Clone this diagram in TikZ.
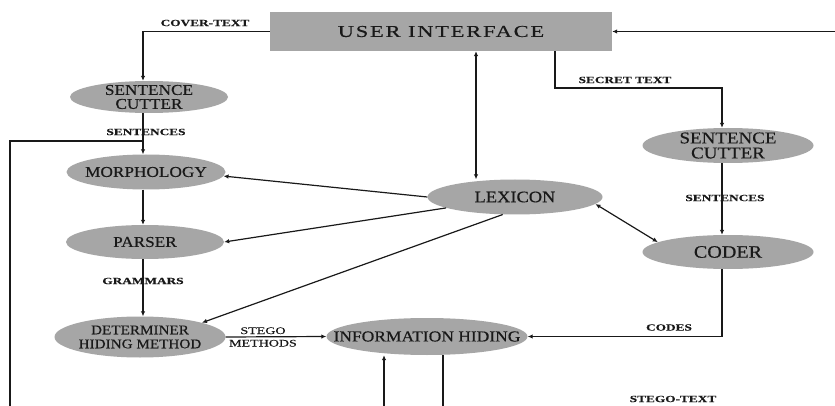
\documentclass[tikz,border=0pt]{standalone}
\usepackage{fontspec}
\setmainfont[FakeStretch=1.15,FakeBold=0.4]{Liberation Serif}
\newfontfamily\lblfont[FakeStretch=1.4,FakeBold=0.3]{Liberation Serif}
\newfontfamily\uifont[FakeStretch=1.35,LetterSpace=11,FakeBold=0.4]{Liberation Serif}
\usetikzlibrary{shapes.geometric,arrows.meta,calc}
\definecolor{shade}{RGB}{166,166,166}
\definecolor{ink}{RGB}{25,25,25}
\tikzset{
  ellnode/.style={ellipse, fill=shade, draw=none, inner sep=0pt},
  etxt/.style={text=ink, inner sep=0pt, align=center},
  boxnode/.style={rectangle, fill=shade, draw=none, inner sep=0pt, text=ink},
  conn/.style={draw=ink, line width=1.2pt},
  arr/.style={conn, -{Latex[length=5pt,width=4.5pt]}},
  darr/.style={conn, {Latex[length=5pt,width=4.5pt]}-{Latex[length=5pt,width=4.5pt]}},
  lbl/.style={font=\lblfont\bfseries\fontsize{9.5}{11}\selectfont, text=ink, inner sep=0pt, align=center},
  lblr/.style={font=\lblfont\fontsize{10}{12.5}\selectfont, text=ink, inner sep=0pt, align=center},
}
\begin{document}
\begin{tikzpicture}[x=1pt,y=-1pt]
\useasboundingbox (0,0) rectangle (835,406);
\fill[white] (0,0) rectangle (835,406);

% nodes
\node[boxnode, minimum width=342pt, minimum height=39pt, font=\uifont\fontsize{16.6}{18}\selectfont] (ui) at (441,31.5) {USER INTERFACE\hspace{14pt}};
\node[ellnode, minimum width=158pt, minimum height=32pt, label={[etxt, font=\fontsize{15}{14}\selectfont]center:{SENTENCE\\CUTTER}}] (sc1) at (149,97) {};
\node[ellnode, minimum width=159pt, minimum height=35pt, label={[etxt, font=\fontsize{15}{16}\selectfont]center:MORPHOLOGY}] (morph) at (146,172) {};
\node[ellnode, minimum width=158pt, minimum height=34pt, label={[etxt, font=\fontsize{15}{16}\selectfont]center:PARSER}] (parser) at (145,242) {};
\node[ellnode, minimum width=171pt, minimum height=41pt, label={[etxt, font=\fontsize{13.2}{14}\selectfont]center:{DETERMINER\\HIDING METHOD}}] (det) at (140,337) {};
\node[ellnode, minimum width=201pt, minimum height=37pt, label={[etxt, font=\fontsize{15.2}{17}\selectfont]center:INFORMATION HIDING}] (info) at (427,336.5) {};
\node[ellnode, minimum width=175pt, minimum height=35pt, label={[etxt, font=\fontsize{16}{18}\selectfont]center:LEXICON}] (lex) at (515,197) {};
\node[ellnode, minimum width=171pt, minimum height=35pt, label={[etxt, font=\fontsize{16.5}{15}\selectfont]center:{SENTENCE\\CUTTER}}] (sc2) at (728,145.5) {};
\node[ellnode, minimum width=171pt, minimum height=34pt, label={[etxt, font=\fontsize{17.5}{19}\selectfont]center:CODER}] (coder) at (728,252) {};

% labels
\node[lbl] (lcover) at (205,23) {COVER-TEXT};
\node[lbl] (lsent1) at (146,132) {SENTENCES};
\node[lbl] (lgram) at (143,281) {GRAMMARS};
\node[lblr] (lstego) at (263,337) {STEGO\\METHODS};
\node[lbl] (lsecret) at (625,80) {SECRET TEXT};
\node[lbl] (lsent2) at (725,198) {SENTENCES};
\node[lbl] (lcodes) at (669,327.5) {CODES};
\node[lbl] (lstt) at (673,399) {STEGO-TEXT};

% helper coordinates
\coordinate (rin) at (835,31.5);
\coordinate (stb) at (555,88);
\coordinate (lx) at (476,0);
\coordinate (lc) at (143,0);
\coordinate (fb) at (143,141);
\coordinate (fbend) at (10,406);
\coordinate (b1) at (384,406);
\coordinate (b2) at (443,406);
\coordinate (cx) at (722,0);

% connectors
\draw[arr] (ui.west) -| (sc1.north -| lc);
\draw[arr] (sc1.south -| lc) -- (morph.north -| lc);
\draw[conn] (fb) -| (fbend);
\draw[arr] (morph.south -| lc) -- (parser.north -| lc);
\draw[arr] (parser.south -| lc) -- (det.north -| lc);
\draw[arr] (det.east) -- (info.west);
\draw[arr] (rin) -- (ui.east);
\draw[arr] (ui.south -| stb) -- (stb) -| (sc2.north -| cx);
\draw[arr] (sc2.south -| cx) -- (coder.north -| cx);
\draw[arr] (coder.south -| cx) |- (info.east);
\draw[darr] (ui.south -| lx) -- (lex.north -| lx);
\draw[darr] (lex.-5) -- (coder.172);
\draw[arr] (lex.west) -- (morph.-3);
\draw[arr] (lex.189) -- (parser.east);
\draw[arr] (lex.235) -- (det.13);
\draw[arr] (b1) -- (b1 |- info.south);
\draw[conn] (b2 |- info.south) -- (b2);
\end{tikzpicture}
\end{document}
